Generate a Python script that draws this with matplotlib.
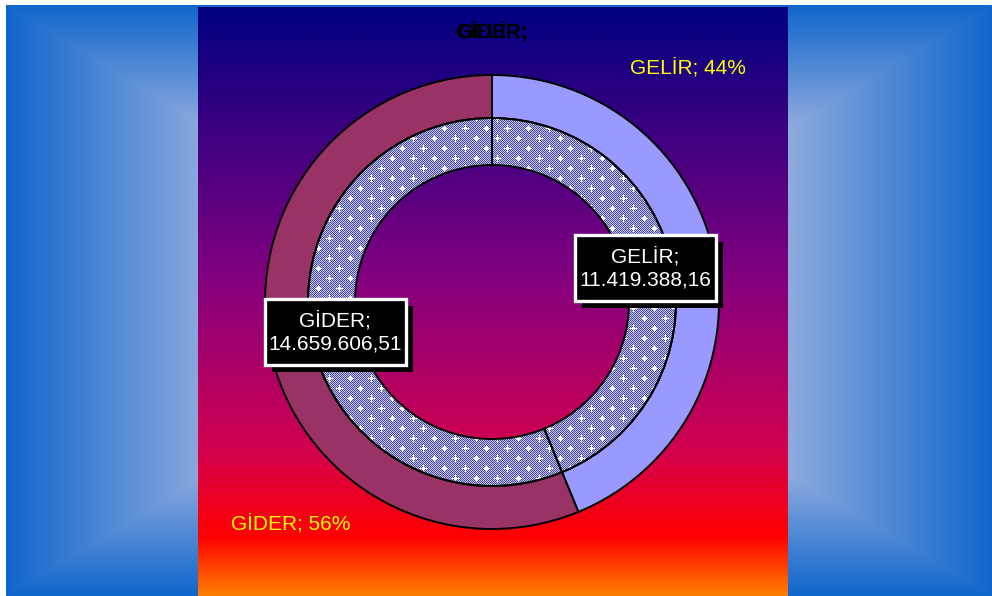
import numpy as np
import matplotlib
matplotlib.use('Agg')
import matplotlib.pyplot as plt
from matplotlib.patches import Rectangle

plt.rcParams['font.family'] = ['Liberation Sans', 'DejaVu Sans']

categories = ['GELİR', 'GİDER']
amounts = [11419388.16, 14659606.51]
outer_colors = ['#9999FF', '#993366']


def tr_money(v):
    # 11,419,388.16 -> 11.419.388,16
    return f'{v:,.2f}'.replace(',', '#').replace('.', ',').replace('#', '.')


W, H = 992, 596
fig = plt.figure(figsize=(W / 100, H / 100), dpi=100, facecolor='white')
ax = fig.add_axes([0, 0, 1, 1])

# blue slide background, rectangular gradient (light in the middle)
bx0, bx1, by0, by1 = 6, 992, 0, 591
yy, xx = np.mgrid[by0:by1, bx0:bx1] + 0.5
t = np.maximum(np.abs(xx - (bx0 + bx1) / 2) / ((bx1 - bx0) / 2),
               np.abs(yy - (by0 + by1) / 2) / ((by1 - by0) / 2))
edge = np.array([16, 102, 204]) / 255
light = np.array([145, 172, 222]) / 255
k = np.clip((1 - t) / 0.42, 0, 1)[..., None]
ax.imshow(edge + (light - edge) * k, extent=(bx0, bx1, by0, by1),
          origin='lower', zorder=0, interpolation='bilinear')

# chart panel, vertical gradient navy -> purple -> red -> orange
px0, px1, py0, py1 = 198, 788, 0, 589
f = np.linspace(0, 1, 589)
stops = [0, 0.45, 0.75, 0.9, 1.0]
cols = np.array([[0, 0, 128], [128, 0, 128], [210, 0, 80], [255, 0, 0], [255, 128, 0]]) / 255
grad = np.stack([np.interp(f, stops, cols[:, c]) for c in range(3)], axis=1)
grad = np.repeat(grad[:, None, :], 2, axis=1)
ax.imshow(grad, extent=(px0, px1, py0, py1), origin='upper', aspect='auto',
          zorder=0.5, interpolation='bilinear')

# donut
cx, cy = 492, H - 302
wedges_out, _ = ax.pie(amounts, radius=227, center=(cx, cy), startangle=90,
                       counterclock=False, colors=outer_colors,
                       wedgeprops=dict(width=43, edgecolor='black', linewidth=1.4, zorder=2))
wedges_in, _ = ax.pie(amounts, radius=184, center=(cx, cy), startangle=90,
                      counterclock=False, colors=['none', 'none'],
                      wedgeprops=dict(width=47, edgecolor='black', linewidth=1.4, zorder=3))

# checkered texture with little sparkles for the inner ring
R = 184
n = 2 * R
ii, jj = np.mgrid[0:n, 0:n]
dark = np.array([70, 70, 155]) / 255
pale = np.array([200, 200, 238]) / 255
tex = np.where(((ii + jj) % 2 == 0)[..., None], dark, pale)
for r in range(0, n, 10):
    off = 0 if (r // 10) % 2 == 0 else 10
    for c in range(off, n, 21):
        tex[max(r - 3, 0):r + 4, c] = 1.0
        tex[r, max(c - 3, 0):c + 4] = 1.0
        tex[max(r - 1, 0):r + 2, max(c - 1, 0):c + 2] = 1.0
for w in wedges_in:
    im = ax.imshow(tex, extent=(cx - R, cx + R, cy - R, cy + R),
                   interpolation='nearest', zorder=1.5)
    im.set_clip_path(w)

# value boxes
box_centers = [(645, H - 268), (335, H - 332)]
bw, bh = 141, 66
for (bxc, byc), cat, amt in zip(box_centers, categories, amounts):
    ax.add_patch(Rectangle((bxc - bw / 2 + 7, byc - bh / 2 - 7), bw, bh,
                           fc='black', ec='none', zorder=4))
    ax.add_patch(Rectangle((bxc - bw / 2, byc - bh / 2), bw, bh,
                           fc='black', ec='white', lw=2.4, zorder=5))
    ax.text(bxc, byc, f'{cat};\n{tr_money(amt)}', color='white', ha='center',
            va='center', fontsize=15, linespacing=1.3, zorder=6)

# percentage labels
total = sum(amounts)
pct_pos = [(688, H - 68), (291, H - 524)]
for (x, y), cat, amt in zip(pct_pos, categories, amounts):
    ax.text(x, y, f'{cat}; {round(100 * amt / total)}%', color='#FFFF00',
            ha='center', va='center', fontsize=15, zorder=6)

# overlapping title
for cat in categories[::-1]:
    ax.text(492, H - 32, f'{cat};', color='black', fontweight='bold',
            ha='center', va='center', fontsize=15, zorder=6)

ax.set_xlim(0, W)
ax.set_ylim(0, H)
ax.set_aspect('auto')
ax.axis('off')
fig.savefig('out.png', dpi=100, facecolor='white')
